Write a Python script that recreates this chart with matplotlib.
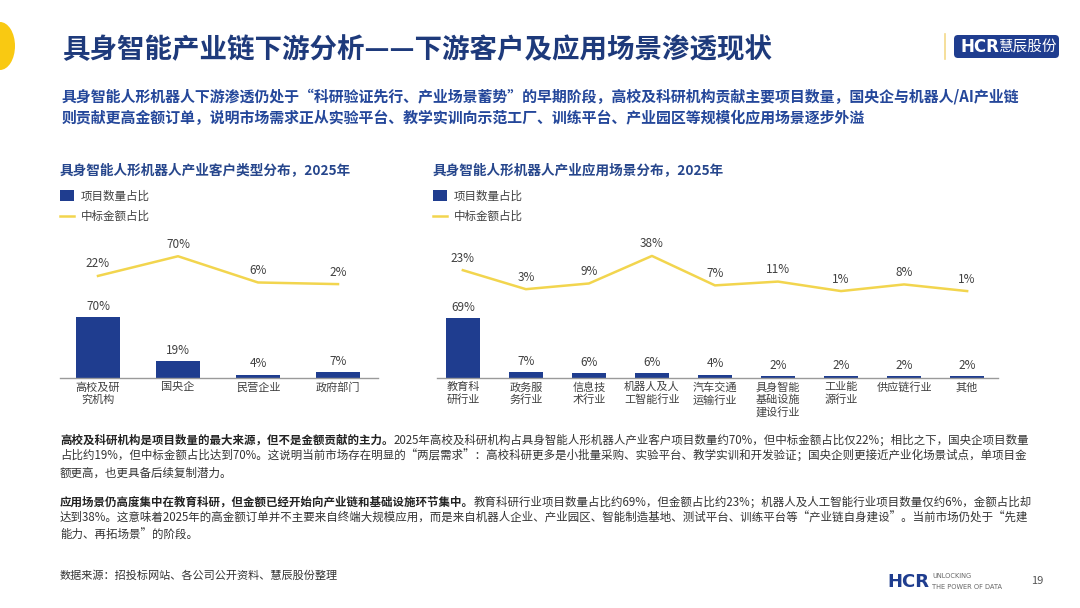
import matplotlib.pyplot as plt
from matplotlib.patches import Ellipse, FancyBboxPatch, Rectangle
from matplotlib.lines import Line2D

plt.rcParams['font.family'] = ['Noto Sans CJK SC', 'DejaVu Sans']

# data
cust_cats = ['高校及研\n究机构', '国央企', '民营企业', '政府部门']
cust_count = [70, 19, 4, 7]      # 项目数量占比 (%)
cust_amount = [22, 70, 6, 2]     # 中标金额占比 (%)

scene_cats = ['教育科\n研行业', '政务服\n务行业', '信息技\n术行业', '机器人及人\n工智能行业',
              '汽车交通\n运输行业', '具身智能\n基础设施\n建设行业', '工业能\n源行业',
              '供应链行业', '其他']
scene_count = [69, 7, 6, 6, 4, 2, 2, 2, 2]
scene_amount = [23, 3, 9, 38, 7, 11, 1, 8, 1]

NAVY = '#1f3d8f'
TITLE = '#1e3a7b'
YELLOW = '#f2d54e'
GREY = '#404040'

W, H = 1080, 608
fig = plt.figure(figsize=(W / 100, H / 100), dpi=100)
bg = fig.add_axes([0, 0, 1, 1])
bg.set_xlim(0, W)
bg.set_ylim(H, 0)
bg.axis('off')


def txt(x, y, s, **kw):
    return bg.text(x, y, s, **kw)


# header
bg.add_patch(Ellipse((0, 46), 30, 48, color='#f9c912', lw=0))
txt(62, 50, '具身智能产业链下游分析——下游客户及应用场景渗透现状', fontsize=19.8,
    fontweight='bold', color=TITLE, va='center')
bg.add_line(Line2D([945, 945], [34, 59], color='#f3d98a', lw=1.2))
bg.add_patch(FancyBboxPatch((954, 35), 105, 23, boxstyle='round,pad=0,rounding_size=4',
                            color=NAVY, lw=0))
txt(960, 47, 'HCR', fontsize=12, fontweight='heavy', color='white', va='center',
    family='DejaVu Sans')
txt(998, 47, '慧辰股份', fontsize=10.5, color='white', va='center')

sub = ['具身智能人形机器人下游渗透仍处于“科研验证先行、产业场景蓄势”的早期阶段，高校及科研机构贡献主要项目数量，国央企与机器人/AI产业链',
       '则贡献更高金额订单，说明市场需求正从实验平台、教学实训向示范工厂、训练平台、产业园区等规模化应用场景逐步外溢']
for i, s in enumerate(sub):
    txt(62, 97 + 21 * i, s, fontsize=10.75, fontweight='bold', color='#24479a', va='center')


def draw_chart(rect, cats, count, amount, xlim, amt_lim, title, tx):
    txt(tx, 170, title, fontsize=9.8, fontweight='bold', color='#26468c', va='center')
    bg.add_patch(Rectangle((tx, 190), 14, 11, color=NAVY, lw=0))
    txt(tx + 21, 196, '项目数量占比', fontsize=8.3, color=GREY, va='center')
    bg.add_line(Line2D([tx, tx + 14], [216, 216], color=YELLOW, lw=1.8))
    txt(tx + 21, 216, '中标金额占比', fontsize=8.3, color=GREY, va='center')

    ax = fig.add_axes(rect)
    x = range(len(cats))
    bars = ax.bar(x, count, width=0.54, color=NAVY)
    ax.bar_label(bars, labels=[f'{v}%' for v in count], padding=3,
                 fontsize=8.5, color=GREY)
    ax.set_xlim(*xlim)
    ax.set_ylim(0, 170)
    ax.set_xticks(list(x))
    ax.set_xticklabels(cats, fontsize=8, color=GREY, linespacing=1.2)
    ax.tick_params(axis='x', length=0, pad=3)
    ax.set_yticks([])
    for s in ['top', 'left', 'right']:
        ax.spines[s].set_visible(False)
    ax.spines['bottom'].set_color('#9a9a9a')
    ax.spines['bottom'].set_linewidth(1)

    ax2 = ax.twinx()
    ax2.plot(list(x), amount, color=YELLOW, lw=1.8)
    for xi, v in zip(x, amount):
        ax2.annotate(f'{v}%', (xi, v), xytext=(0, 4), textcoords='offset points',
                     ha='center', va='bottom', fontsize=8.5, color=GREY)
    ax2.set_ylim(*amt_lim)
    ax2.set_yticks([])
    ax2.axis('off')


ax_bottom = 1 - 378 / H
ax_h = (378 - 230) / H
draw_chart([60 / W, ax_bottom, 318 / W, ax_h], cust_cats, cust_count, cust_amount,
           (-0.475, 3.5), (-227, 134), '具身智能人形机器人产业客户类型分布，2025年', 60)
draw_chart([437 / W, ax_bottom, 561 / W, ax_h], scene_cats, scene_count, scene_amount,
           (-0.41, 8.49), (-90.5, 65.3), '具身智能人形机器人产业应用场景分布，2025年', 433)

# body text
para = [
    [('高校及科研机构是项目数量的最大来源，但不是金额贡献的主力。',
      '2025年高校及科研机构占具身智能人形机器人产业客户项目数量约70%，但中标金额占比仅22%；相比之下，国央企项目数量'),
     ('', '占比约19%，但中标金额占比达到70%。这说明当前市场存在明显的“两层需求”：高校科研更多是小批量采购、实验平台、教学实训和开发验证；国央企则更接近产业化场景试点，单项目金'),
     ('', '额更高，也更具备后续复制潜力。')],
    [('应用场景仍高度集中在教育科研，但金额已经开始向产业链和基础设施环节集中。',
      '教育科研行业项目数量占比约69%，但金额占比约23%；机器人及人工智能行业项目数量仅约6%，金额占比却'),
     ('', '达到38%。这意味着2025年的高金额订单并不主要来自终端大规模应用，而是来自机器人企业、产业园区、智能制造基地、测试平台、训练平台等“产业链自身建设”。当前市场仍处于“先建'),
     ('', '能力、再拓场景”的阶段。')],
]
for p, y0 in zip(para, [440, 502]):
    for i, (b, r) in enumerate(p):
        y = y0 + 16.5 * i
        if b:
            t = txt(60, y, b, fontsize=8.25, fontweight='bold', color='#222222', va='center')
            bg.annotate(r, xy=(1, 0.5), xycoords=t, va='center', ha='left',
                        fontsize=8.25, color='#333333')
        else:
            txt(60, y, r, fontsize=8.25, color='#333333', va='center')

# footer
txt(60, 576, '数据来源：招投标网站、各公司公开资料、慧辰股份整理', fontsize=8, color='#333333',
    va='center')
txt(887, 582, 'HCR', fontsize=13, fontweight='heavy', color=NAVY, va='center',
    family='DejaVu Sans')
txt(932, 576, 'UNLOCKING', fontsize=4.8, color='#666666', va='center', family='DejaVu Sans')
txt(932, 587, 'THE POWER OF DATA', fontsize=4.8, color='#666666', va='center',
    family='DejaVu Sans')
txt(1031, 581, '19', fontsize=8, color='#555555', va='center')

fig.savefig('out.png', dpi=100)
